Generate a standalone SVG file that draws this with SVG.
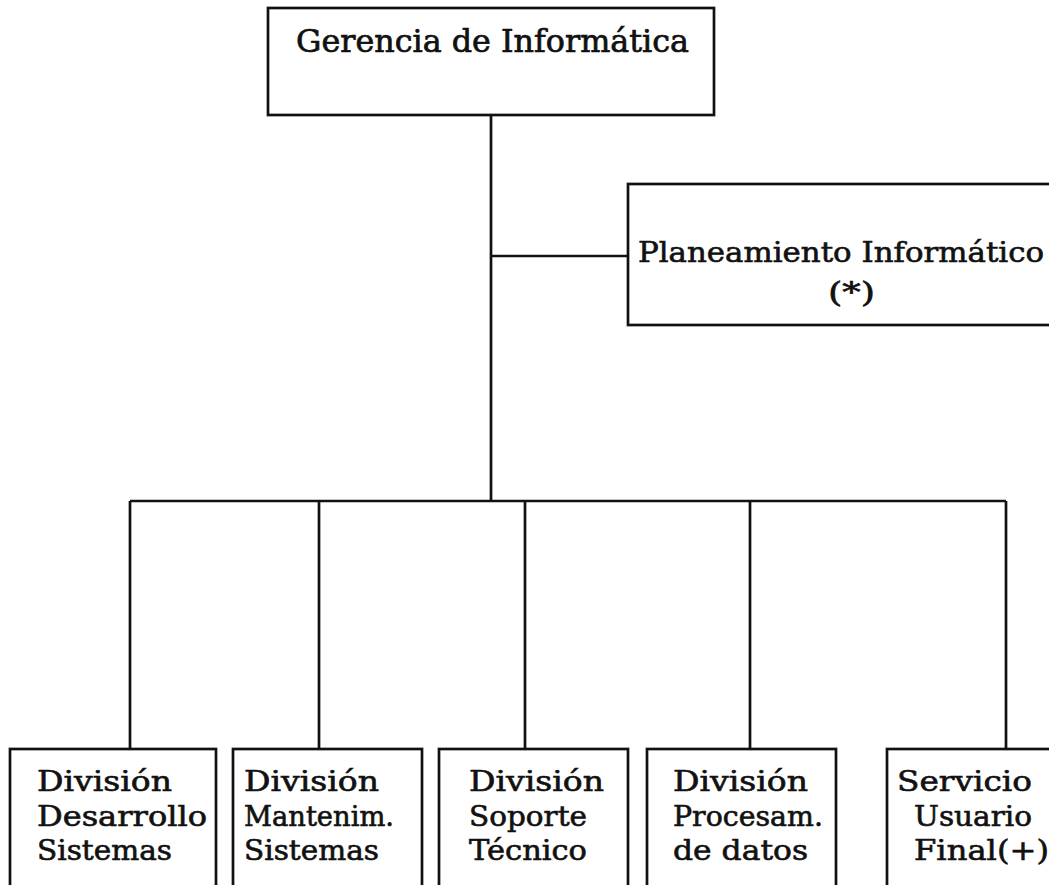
<svg xmlns="http://www.w3.org/2000/svg" width="1049" height="885" viewBox="0 0 1049 885">
<style>
.box{fill:#fff;stroke:#111;stroke-width:2.7}
.ln{fill:none;stroke:#111;stroke-width:2.7}
.t{font-family:"DejaVu Serif","Liberation Serif",serif;font-size:27px;fill:#111;stroke:#111;stroke-width:0.6}
</style>
<rect width="1049" height="885" fill="#fff"/>
<g id="connectors">
<path class="ln" d="M491 115 V501"/>
<path class="ln" d="M491 256 H628"/>
<path class="ln" d="M130 501 H1006"/>
<path class="ln" d="M130 501 V749 M319 501 V749 M525 501 V749 M750 501 V749 M1006 501 V749"/>
</g>
<g id="gerencia">
<rect class="box" x="268" y="8" width="446" height="107"/>
<text class="t" transform="translate(296,52) scale(1,1.2)" x="0" y="0" textLength="393" lengthAdjust="spacingAndGlyphs">Gerencia de Informática</text>
</g>
<g id="planeamiento">
<rect class="box" x="628" y="184" width="440" height="141"/>
<text class="t" x="638" y="262" textLength="406" lengthAdjust="spacingAndGlyphs">Planeamiento Informático</text>
<text class="t" x="828" y="302" textLength="47" lengthAdjust="spacingAndGlyphs">(*)</text>
</g>
<g id="div-desarrollo">
<rect class="box" x="10" y="749" width="206" height="150"/>
<text class="t" x="37" y="791" textLength="135" lengthAdjust="spacingAndGlyphs">División</text>
<text class="t" x="37" y="826" textLength="170" lengthAdjust="spacingAndGlyphs">Desarrollo</text>
<text class="t" x="37" y="860" textLength="135" lengthAdjust="spacingAndGlyphs">Sistemas</text>
</g>
<g id="div-mantenim">
<rect class="box" x="233" y="749" width="189" height="150"/>
<text class="t" x="244" y="791" textLength="135" lengthAdjust="spacingAndGlyphs">División</text>
<text class="t" x="244" y="826" textLength="150" lengthAdjust="spacingAndGlyphs">Mantenim.</text>
<text class="t" x="244" y="860" textLength="135" lengthAdjust="spacingAndGlyphs">Sistemas</text>
</g>
<g id="div-soporte">
<rect class="box" x="439" y="749" width="189" height="150"/>
<text class="t" x="469" y="791" textLength="135" lengthAdjust="spacingAndGlyphs">División</text>
<text class="t" x="469" y="826" textLength="118" lengthAdjust="spacingAndGlyphs">Soporte</text>
<text class="t" x="469" y="860" textLength="118" lengthAdjust="spacingAndGlyphs">Técnico</text>
</g>
<g id="div-procesam">
<rect class="box" x="647" y="749" width="189" height="150"/>
<text class="t" x="673" y="791" textLength="135" lengthAdjust="spacingAndGlyphs">División</text>
<text class="t" x="673" y="826" textLength="150" lengthAdjust="spacingAndGlyphs">Procesam.</text>
<text class="t" x="673" y="860" textLength="135" lengthAdjust="spacingAndGlyphs">de datos</text>
</g>
<g id="servicio">
<rect class="box" x="887" y="749" width="180" height="150"/>
<text class="t" x="897" y="791" textLength="135" lengthAdjust="spacingAndGlyphs">Servicio</text>
<text class="t" x="914" y="826" textLength="118" lengthAdjust="spacingAndGlyphs">Usuario</text>
<text class="t" x="914" y="860" textLength="135" lengthAdjust="spacingAndGlyphs">Final(+)</text>
</g>
</svg>
